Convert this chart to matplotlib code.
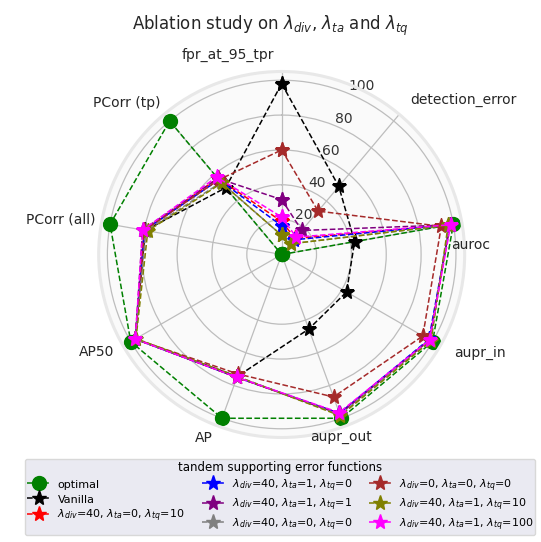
import numpy as np
import matplotlib.pyplot as plt

# Metrics (clockwise from the top)
metrics = ["fpr_at_95_tpr", "detection_error", "auroc", "aupr_in", "aupr_out",
           "AP", "AP50", "PCorr (all)", "PCorr (tp)"]

# Values
optimal = [0, 0, 100, 100, 100, 100, 100, 100, 100]
vanilla = [98, 51, 42.5, 43, 45.5, 74.5, 97, 79.5, 50]
div40_ta0_tq10 = [19, 12, 98, 98, 97, 75, 97, 80, 57]
div40_ta1_tq0 = [16.5, 11, 98, 97.5, 97, 75, 97, 80, 56]
div40_ta1_tq1 = [31.5, 18, 98, 98, 97.5, 75, 97, 81, 57]
div40_ta0_tq0 = [11, 8, 97.5, 98.5, 98, 74.5, 97, 79, 54]
div0_ta0_tq0 = [60, 32.5, 93, 93.5, 87, 73, 97, 80, 56]
div40_ta1_tq10 = [11, 8, 97, 99, 98.5, 74.5, 96.5, 78, 53.5]
div40_ta1_tq100 = [21.5, 13, 98.5, 98, 96.5, 75, 97, 81, 58]

series = [
    ("optimal", optimal, "green", "o"),
    ("Vanilla", vanilla, "black", "*"),
    (r"$\lambda_{div}$=40, $\lambda_{ta}$=0, $\lambda_{tq}$=10", div40_ta0_tq10, "red", "*"),
    (r"$\lambda_{div}$=40, $\lambda_{ta}$=1, $\lambda_{tq}$=0", div40_ta1_tq0, "blue", "*"),
    (r"$\lambda_{div}$=40, $\lambda_{ta}$=1, $\lambda_{tq}$=1", div40_ta1_tq1, "purple", "*"),
    (r"$\lambda_{div}$=40, $\lambda_{ta}$=0, $\lambda_{tq}$=0", div40_ta0_tq0, "gray", "*"),
    (r"$\lambda_{div}$=0, $\lambda_{ta}$=0, $\lambda_{tq}$=0", div0_ta0_tq0, "brown", "*"),
    (r"$\lambda_{div}$=40, $\lambda_{ta}$=1, $\lambda_{tq}$=10", div40_ta1_tq10, "olive", "*"),
    (r"$\lambda_{div}$=40, $\lambda_{ta}$=1, $\lambda_{tq}$=100", div40_ta1_tq100, "magenta", "*"),
]

# where the metric names sit (angle in degrees clockwise from top, radius)
label_theta = [344.8, 49.6, 87.1, 116.4, 162.1, 202.9, 242.2, 279.1, 314.4]
label_r = [118.6, 136.9, 108.4, 127, 110, 114.3, 120, 128.5, 124.2]

angles = np.linspace(0, 2 * np.pi, len(metrics), endpoint=False)
closed = np.concatenate([angles, angles[:1]])

fig = plt.figure(figsize=(5.41, 5.42), dpi=100)
ax = fig.add_axes([0.1824, 0.1928, 0.6765, 0.6753], projection="polar")
ax.set_theta_offset(np.pi / 2)
ax.set_theta_direction(-1)
ax.set_facecolor("#fafafa")

for name, vals, color, marker in series:
    v = np.concatenate([vals, vals[:1]])
    ax.plot(closed, v, linestyle="--", color=color, marker=marker,
            markersize=10 if marker == "o" else 11, linewidth=1.1, label=name)

ax.set_ylim(0, 105)
ax.set_yticks([20, 40, 60, 80, 100])
ax.set_yticklabels(["20", "40", "60", "80", "100"], fontsize=10, color="#333333")
ax.set_xticks(angles)
ax.set_xticklabels([""] * len(metrics))
ax.grid(True, color="#bdbdbd", linewidth=0.9)
ax.spines["polar"].set_color("#e8e8e8")
ax.spines["polar"].set_linewidth(2.2)

for name, th, rr in zip(metrics, label_theta, label_r):
    ax.text(np.deg2rad(th), rr, name, ha="center", va="center",
            fontsize=10, color="#262626")

fig.suptitle(r"Ablation study on $\lambda_{div}$, $\lambda_{ta}$ and $\lambda_{tq}$",
             y=0.974, fontsize=12, color="#262626")

handles, labels = ax.get_legend_handles_labels()
leg = fig.legend(handles, labels, loc="upper center", bbox_to_anchor=(0.518, 0.163),
                 ncol=3, fontsize=8, title="tandem supporting error functions",
                 title_fontsize=8.5, facecolor="#eaeaf2", edgecolor="#d8d8d8",
                 framealpha=1, borderpad=0.2, labelspacing=0.28, handleheight=1.2,
                 columnspacing=1.5, handletextpad=0.7)

fig.savefig("out.png", dpi=100)
